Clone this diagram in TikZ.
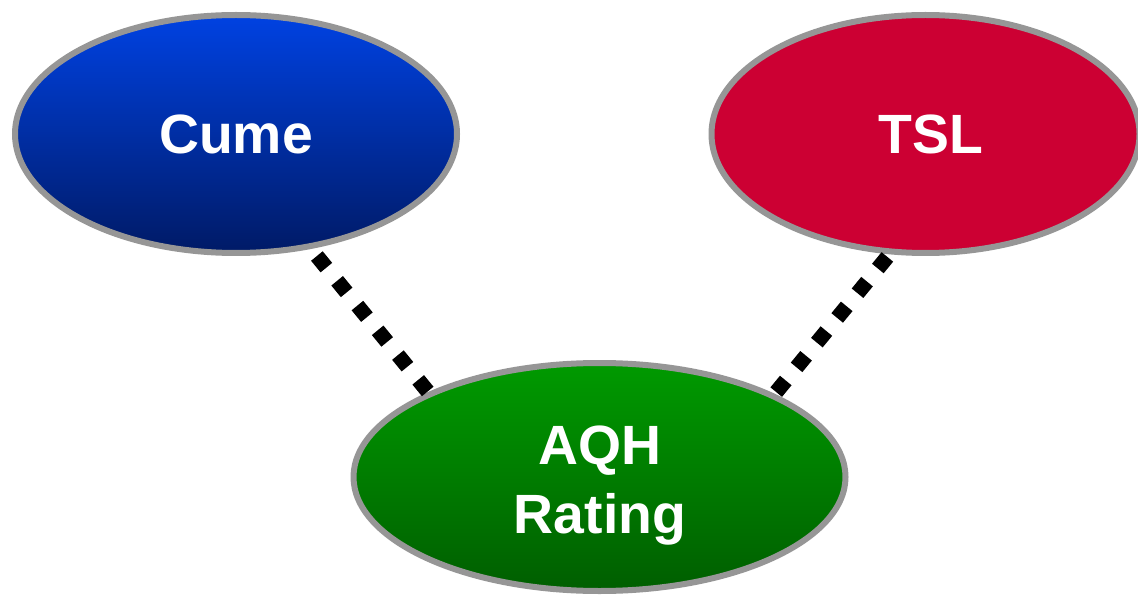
\documentclass[tikz,border=0pt]{standalone}
\usepackage{fontspec}
\setmainfont{Liberation Sans}
\usetikzlibrary{shapes.geometric}
\definecolor{bluetop}{RGB}{0,66,226}
\definecolor{bluebot}{RGB}{0,26,102}
\definecolor{greentop}{RGB}{0,154,0}
\definecolor{greenbot}{RGB}{0,94,0}
\definecolor{tslred}{RGB}{204,0,51}
\definecolor{rimgray}{RGB}{150,150,150}
\tikzset{
  bubble/.style={ellipse, draw=rimgray, line width=4.5pt, inner sep=0pt, outer sep=0pt,
    text=white, font=\fontsize{41.5pt}{51.75pt}\selectfont\bfseries, align=center},
  dotline/.style={line width=11.25pt, line cap=butt, dash pattern=on 11.25pt off 12.75pt, black},
}
\begin{document}
\begin{tikzpicture}[x=0.75pt, y=-0.75pt]
\useasboundingbox (0,0) rectangle (1138,595);
\node[bubble, minimum width=331.5pt, minimum height=178.5pt, top color=bluetop, bottom color=bluebot] (cume) at (236,134) {Cume};
\node[bubble, minimum width=321pt, minimum height=178.5pt, fill=tslred] (tsl) at (925.5,134) {\hspace*{8pt}TSL};
\node[bubble, minimum width=369pt, minimum height=171pt, top color=greentop, bottom color=greenbot] (aqh) at (599.5,477) {};
\node[text=white, font=\fontsize{41.5pt}{51.75pt}\selectfont\bfseries, align=center, inner sep=0pt] (aqhtext) at (600,485.5) {AQH\\Rating};
\draw[dotline, shorten <=9.4pt] (cume.-57.7) -- (aqh.154.1);
\draw[dotline, shorten <=5.25pt] (tsl.254.5) -- (aqh.25.4);
\end{tikzpicture}
\end{document}
